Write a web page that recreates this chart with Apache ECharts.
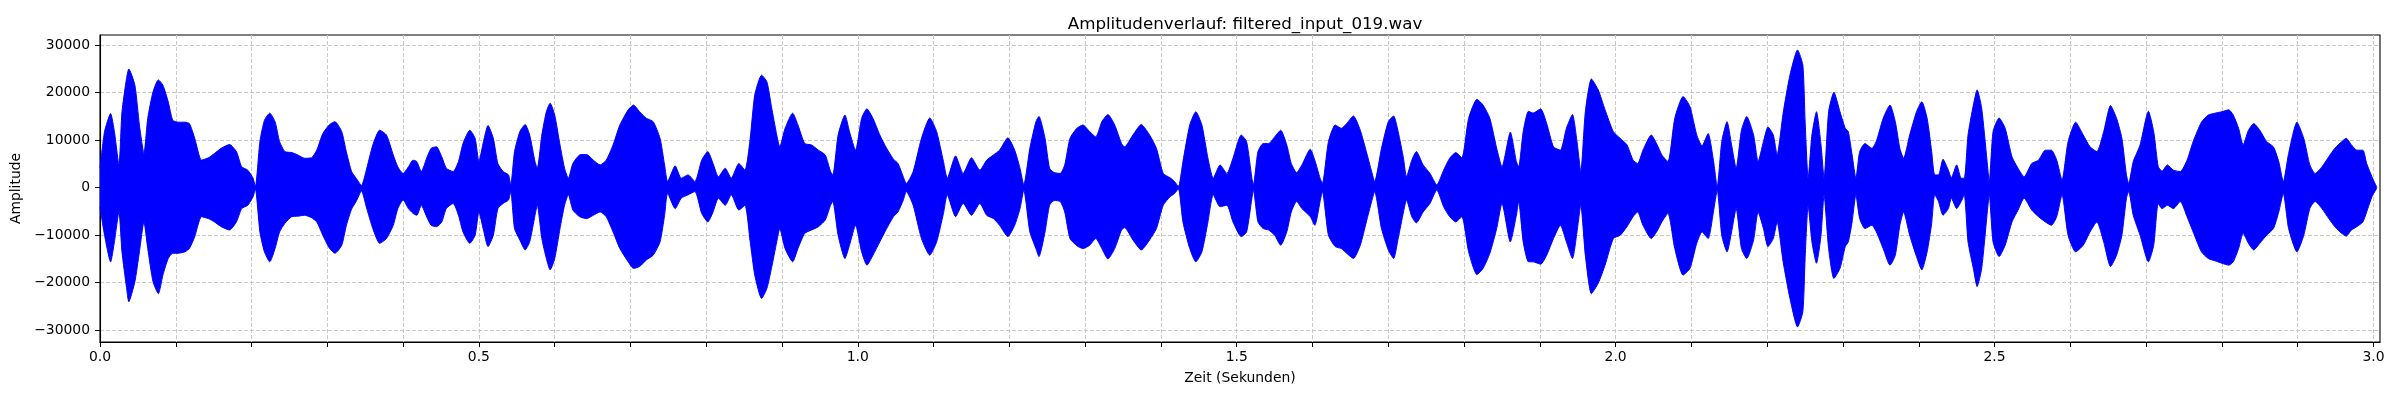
<!DOCTYPE html>
<html>
<head>
<meta charset="utf-8">
<title>Amplitudenverlauf</title>
<script src="https://cdn.jsdelivr.net/npm/echarts@6.0.0/dist/echarts.min.js"></script>
<style>
html, body { margin: 0; padding: 0; background: #fff; }
#chart { width: 2400px; height: 400px; }
</style>
</head>
<body>
<div id="chart"></div>
<script>
// envelope of the waveform (seconds, upper / lower amplitude)
var times = [
    0.000,0.006,0.014,0.019,0.025,0.029,0.035,0.038,0.046,0.052,0.058,0.063,0.070,0.077,0.083,0.090,0.096,0.103,0.112,0.118,
    0.125,0.134,0.143,0.151,0.160,0.171,0.180,0.187,0.195,0.202,0.205,0.211,0.217,0.224,0.231,0.237,0.244,0.253,0.261,0.270,
    0.279,0.286,0.294,0.303,0.310,0.319,0.325,0.332,0.338,0.345,0.352,0.360,0.369,
    0.378,0.387,0.393,0.400,0.407,0.413,0.418,0.424,0.431,0.437,0.444,0.451,0.457,0.466,0.473,0.479,0.488,0.495,0.500,0.506,
    0.512,0.519,0.525,0.532,0.539,0.542,0.547,0.554,0.561,0.567,0.574,0.577,0.583,0.589,0.594,0.600,0.607,0.613,0.618,0.624,
    0.633,0.642,0.651,0.660,0.668,0.677,0.686,0.697,0.704,0.712,0.721,0.730,0.739,0.745,
    0.749,0.759,0.767,0.776,0.785,0.794,0.802,0.809,0.816,0.825,0.833,0.843,0.851,0.858,0.864,0.873,0.880,0.886,0.893,0.897,
    0.904,0.914,0.921,0.930,0.939,0.948,0.957,0.964,0.967,0.974,0.983,0.989,0.997,1.005,1.012,1.020,1.029,1.038,1.047,1.053,
    1.060,1.064,1.073,1.084,1.095,1.104,1.113,1.118,
    1.129,1.139,1.150,1.161,1.170,1.179,1.187,1.198,1.207,1.214,1.219,1.227,1.235,1.239,1.247,1.253,1.259,1.267,1.273,1.280,
    1.289,1.297,1.306,1.314,1.322,1.330,1.339,1.348,1.352,1.363,1.374,1.385,1.394,1.403,1.412,1.418,1.423,1.429,1.438,1.446,
    1.454,1.462,1.469,1.478,1.487,1.495,
    1.506,1.513,1.520,1.522,1.528,1.535,1.542,1.550,1.558,1.566,1.572,1.579,1.586,1.597,1.603,1.610,1.613,1.621,1.630,1.638,
    1.645,1.654,1.663,1.671,1.678,1.682,1.691,1.700,1.707,1.713,1.720,1.724,1.731,1.737,1.746,1.755,1.764,1.773,1.781,1.789,
    1.797,1.806,1.817,1.825,1.834,1.843,1.850,1.861,1.869,1.872,
    1.878,1.885,1.891,1.901,1.909,1.918,1.927,1.935,1.943,1.949,1.954,1.960,1.968,1.977,1.986,1.997,2.006,2.015,2.023,2.029,
    2.036,2.047,2.054,2.061,2.069,2.078,2.089,2.098,2.107,2.114,2.122,2.129,2.134,2.140,2.147,2.153,2.159,2.166,2.173,2.182,
    2.188,2.195,2.201,2.208,2.213,2.221,2.230,2.240,2.247,2.250,
    2.254,2.259,2.265,2.271,2.275,2.281,2.288,2.296,2.303,2.307,2.312,2.317,2.322,2.329,2.338,2.344,2.353,2.362,2.369,2.375,
    2.380,2.388,2.397,2.404,2.411,2.417,2.421,2.426,2.432,2.439,2.443,2.450,2.456,2.460,2.465,2.472,2.477,2.483,2.490,2.493,
    2.498,2.506,2.514,2.523,2.531,2.539,2.549,2.558,2.567,2.575,2.582,2.589,2.597,2.607,2.617,2.626,
    2.635,2.644,2.653,2.661,2.668,2.674,2.677,2.683,2.692,2.703,2.710,2.716,2.721,2.728,2.736,2.745,2.754,2.762,2.773,2.782,
    2.791,2.800,2.809,2.815,2.822,2.828,2.835,2.842,2.850,2.859,2.868,2.875,2.881,2.888,2.899,2.908,2.916,2.923,2.932,2.941,
    2.949,2.958,2.964,2.971,2.978,2.986,2.991,2.998,3.004
];

var upperEnv = [
    4100,11800,15600,11800,4800,16000,23000,25000,21600,13200,7200,14600,20200,22700,21600,18100,14200,13800,13800,13500,
    10400,5800,6300,7200,8300,9100,7600,4400,3700,2000,200,9700,14200,15700,13900,9700,7600,7400,6900,6200,
    6300,7900,11400,13300,13900,11800,7600,3400,2000,500,4100,9000,12100,
    11100,6900,4400,3000,4400,5800,5500,3400,6200,8300,8600,6500,4100,3400,5500,9300,12100,10400,5500,9700,
    13100,10400,5100,3400,2700,600,7600,11800,13300,11100,5500,4100,11100,16000,17800,15300,9000,4100,2000,5100,
    6900,7000,5800,4800,5800,9000,13200,16400,17400,16000,14600,13900,10400,4800,
    1300,4600,2000,2700,1300,5800,7600,5100,2300,4100,2000,5100,3700,10400,19500,23700,22300,17100,11100,8600,
    12500,15700,13200,9300,9000,7900,6900,3400,2700,11100,15300,11800,7900,14600,16600,14600,11100,8300,6000,5100,
    2300,900,3400,10400,14700,11800,5500,2000,
    6700,3000,6300,3700,5800,6900,7900,10500,7900,4100,600,8300,13900,15000,10400,4100,3200,3000,4800,10400,
    12500,13200,11800,10700,13900,15400,13200,9300,8600,11100,13300,11100,8300,3000,2100,1300,200,5500,13200,16000,
    13200,6200,2000,4800,3000,6200,
    11100,9700,2000,600,7600,9300,9300,10700,12100,9000,5100,3200,4800,8100,5800,2000,900,9700,13200,12500,
    13500,15100,12100,7600,3400,1300,8300,13900,15100,11800,6200,2300,5800,7600,4800,3000,600,3700,6200,7400,
    6300,14600,18600,17400,14600,8300,4400,11700,5500,4400,
    11800,16100,15700,16600,13500,8600,7900,12500,15400,9700,3400,16000,22900,20600,16400,11800,10400,9000,5800,5100,
    7900,11100,9300,6900,5500,14600,19200,17100,11100,8800,11400,5800,200,9700,13900,9000,4100,12100,15000,11100,
    5500,9700,12800,11100,6900,15700,23700,29000,25800,14000,
    2000,11100,16000,9000,2000,16000,20100,16000,12500,11800,6900,2000,7600,9300,8300,9800,14600,17400,13900,8300,
    6200,11100,16000,18100,14600,7600,2700,2700,6000,3700,2100,4800,2000,2000,11100,17400,20600,16700,5800,1300,
    11800,14700,12500,6500,4100,2300,5100,5800,7900,7900,5800,1600,9700,13800,11100,8600,
    7600,11800,17300,14600,10400,2700,900,5500,9000,16100,11800,4400,3500,4800,3700,3400,5800,9700,13800,15300,
    15700,16000,16400,15300,12500,9000,12100,13500,12100,9700,8600,5500,1300,7200,13800,10400,4800,3000,4400,6500,
    8300,9700,10400,9000,7900,7900,5100,2300,200
];

var lowerEnv = [
    -4000,-10000,-15600,-11400,-5100,-13500,-21000,-24000,-19800,-13500,-7200,-12800,-19800,-22300,-18400,-14900,-13800,-13800,-13500,-12800,
    -10300,-6100,-6500,-7200,-8200,-8900,-7200,-4400,-3700,-1900,-200,-9300,-13500,-15600,-12800,-9300,-7500,-6100,-6000,-5800,
    -6300,-7200,-10000,-12800,-13800,-12100,-8000,-4500,-2900,-700,-4400,-8600,-11700,
    -10700,-7900,-4400,-2600,-4400,-5400,-5800,-3700,-6100,-7900,-8200,-7200,-4400,-3300,-5800,-9300,-11700,-10000,-5100,-8900,
    -12400,-10000,-4400,-3300,-2600,-800,-8600,-11000,-13100,-11400,-5800,-3700,-10700,-14900,-17300,-14900,-8600,-3700,-1500,-4700,
    -6100,-6500,-5800,-5100,-6100,-9300,-12800,-15600,-17000,-16600,-15200,-14200,-11400,-5800,
    -1200,-4400,-2200,-1500,-800,-5400,-7200,-5100,-2200,-3700,-1500,-4700,-3700,-11400,-18400,-23300,-21200,-17000,-11400,-8600,
    -12800,-15600,-12800,-9600,-8900,-8200,-6800,-3700,-2900,-10000,-14900,-12100,-7900,-13500,-16300,-14200,-11400,-8600,-6100,-5100,
    -2600,-800,-3700,-10700,-14200,-11400,-5400,-1500,
    -6100,-3300,-5800,-3300,-5800,-6500,-7900,-10300,-7900,-4400,-500,-9300,-12800,-14500,-9300,-3700,-2700,-2900,-5100,-10700,
    -12200,-12800,-12100,-10700,-12800,-15000,-12800,-8900,-8400,-11000,-13100,-11000,-8600,-3700,-1900,-1200,-200,-7200,-12800,-15600,
    -13500,-7200,-1500,-4000,-3700,-7200,
    -10300,-9300,-2200,-500,-7200,-8600,-8900,-10000,-12100,-9300,-5100,-2900,-4400,-6100,-7900,-2900,-800,-10000,-12400,-12800,
    -13800,-14900,-12100,-7200,-2900,-800,-8600,-13100,-14900,-10700,-5100,-2600,-6100,-7400,-5100,-3300,-500,-4000,-6100,-7200,
    -6100,-13500,-18300,-17000,-13800,-8600,-3300,-11400,-5800,-2900,
    -11400,-15600,-15600,-16100,-14200,-10700,-7900,-11400,-14900,-9300,-3700,-14200,-22300,-20100,-16300,-10700,-10000,-8200,-6100,-5100,
    -7900,-10700,-9300,-7200,-5400,-12800,-18400,-17000,-11700,-9300,-10700,-5100,-500,-10000,-13500,-9300,-4400,-12800,-14900,-11000,
    -5100,-8600,-12400,-10700,-7200,-15600,-23300,-29300,-26100,-14900,
    -3700,-11400,-15900,-10000,-1500,-12800,-19100,-17000,-12400,-11400,-7200,-1500,-6500,-8600,-7900,-9300,-12800,-16300,-14200,-7900,
    -5100,-10000,-14500,-17300,-13500,-7500,-1500,-2900,-5800,-4400,-2200,-4400,-2900,-1500,-11400,-17000,-20800,-17000,-5800,-1500,
    -11400,-14500,-12100,-7200,-4700,-2200,-4700,-6100,-7200,-7900,-6100,-1500,-10000,-13500,-12100,-9300,
    -7200,-11400,-16600,-14200,-10000,-2200,-800,-5800,-10000,-15600,-12100,-3300,-4400,-3700,-4400,-2900,-6100,-9300,-13500,-14900,
    -15400,-15900,-16300,-15600,-12800,-9600,-11700,-13100,-11700,-10000,-8600,-5100,-1200,-8600,-13500,-10000,-4400,-2900,-4400,-6500,
    -8200,-9600,-10200,-8900,-8200,-7200,-5100,-1900,-200
];

var yTicks = [-30000, -20000, -10000, 0, 10000, 20000, 30000];
var xLabelTicks = [0, 0.5, 1.0, 1.5, 2.0, 2.5, 3.0];
var xTickStep = 0.1;
var xMax = 3.0086;
var yMin = -32480;
var yMax = 32150;

var FONT = "DejaVu Sans";
var WAVE = "#0000ff";

function pairs(a, b) {
    var out = [];
    for (var i = 0; i < a.length; i++) {
        out.push([a[i], b[i]]);
    }
    return out;
}

function minusSign(v) {
    return String(v).replace("-", "\u2212");
}

var xTicks = [];
for (var i = 0; i * xTickStep <= xMax; i++) {
    xTicks.push(+(i * xTickStep).toFixed(1));
}

var gridLine = { show: true, lineStyle: { color: "#c8c8c8", width: 1, type: [4, 2] } };

// each half is filled towards zero; the origins overlap a little so no seam shows at 0
function envelopeSeries(name, values, origin) {
    return {
        name: name,
        type: "line",
        data: pairs(times, values),
        showSymbol: false,
        symbol: "none",
        smooth: 0.2,
        lineStyle: { color: WAVE, width: 1 },
        areaStyle: { color: WAVE, opacity: 1, origin: origin },
        z: 3
    };
}

var option = {
    animation: false,
    backgroundColor: "#ffffff",
    title: {
        text: "Amplitudenverlauf: filtered_input_019.wav",
        left: 1240,
        top: 11,
        textAlign: "center",
        textStyle: { fontFamily: FONT, fontSize: 16.7, fontWeight: "normal", color: "#000" }
    },
    grid: {
        left: 100, right: 20, top: 35, bottom: 58,
        show: true, borderColor: "#000", borderWidth: 1.1,
        outerBoundsMode: "none"
    },
    xAxis: {
        type: "value",
        min: 0,
        max: xMax,
        name: "Zeit (Sekunden)",
        nameLocation: "middle",
        nameGap: 29,
        nameTextStyle: { fontFamily: FONT, fontSize: 13.9, color: "#000" },
        axisLine: { show: true, onZero: false, lineStyle: { color: "#000", width: 1.1 } },
        axisTick: { show: true, length: 5, customValues: xTicks, lineStyle: { color: "#000", width: 1 } },
        axisLabel: {
            customValues: xLabelTicks,
            margin: 8,
            fontFamily: FONT, fontSize: 13.9, color: "#000",
            formatter: function (v) { return v.toFixed(1); }
        },
        splitLine: gridLine
    },
    yAxis: {
        type: "value",
        min: yMin,
        max: yMax,
        name: "Amplitude",
        nameLocation: "middle",
        nameRotate: 90,
        nameGap: 67,
        nameTextStyle: { fontFamily: FONT, fontSize: 13.9, color: "#000" },
        axisLine: { show: true, lineStyle: { color: "#000", width: 1.1 } },
        axisTick: { show: true, length: 5, customValues: yTicks, lineStyle: { color: "#000", width: 1 } },
        axisLabel: {
            customValues: yTicks,
            margin: 10,
            fontFamily: FONT, fontSize: 13.9, color: "#000",
            formatter: minusSign
        },
        splitLine: gridLine
    },
    series: [
        envelopeSeries("upper", upperEnv, -400),
        envelopeSeries("lower", lowerEnv, 400)
    ]
};

var chart = echarts.init(document.getElementById("chart"), null, { renderer: "canvas" });
chart.setOption(option);
window.addEventListener("resize", function () { chart.resize(); });
</script>
</body>
</html>
